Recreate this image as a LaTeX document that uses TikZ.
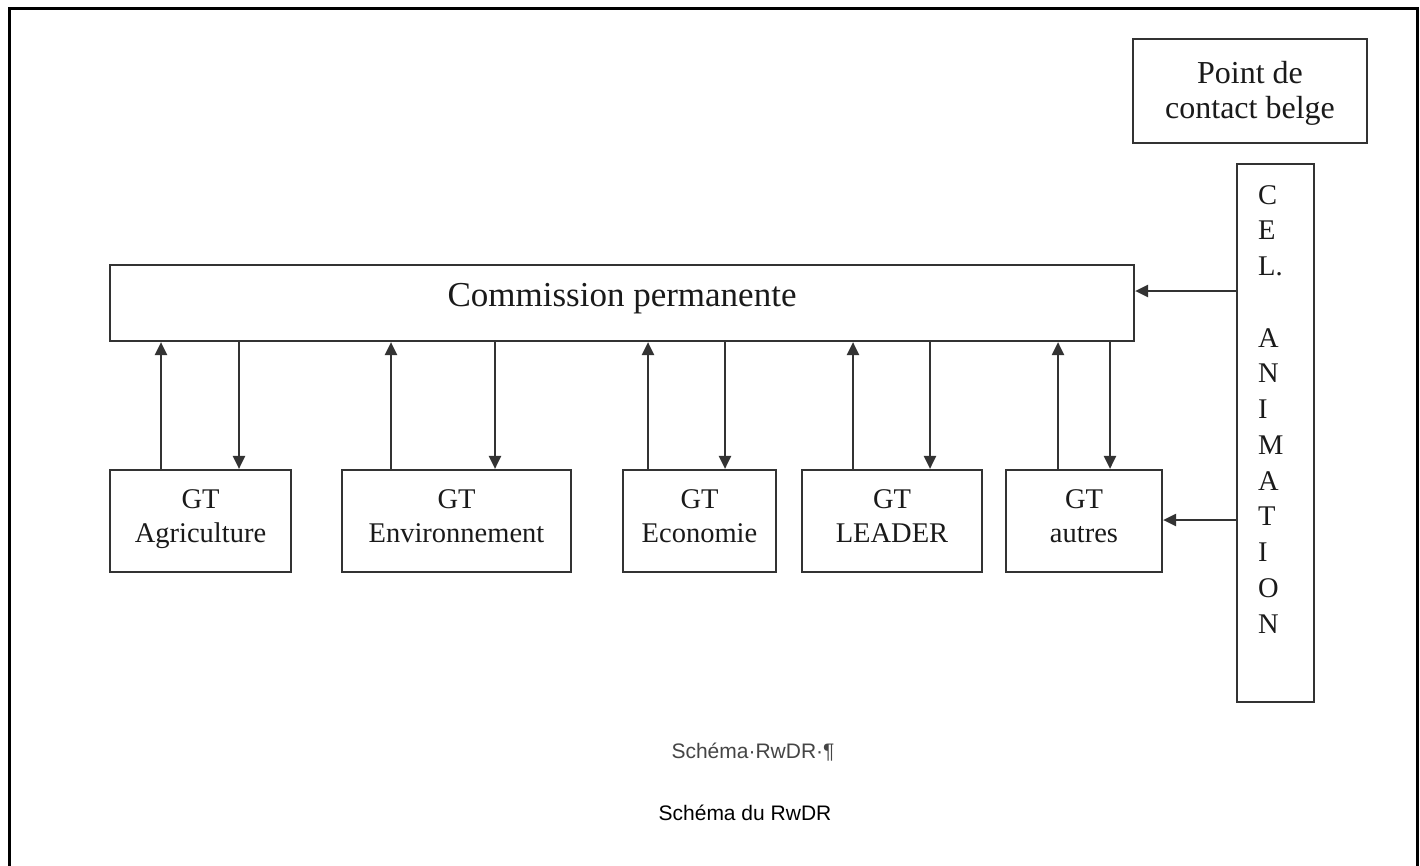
\documentclass[tikz,border=0pt]{standalone}
\usepackage{fontspec}
\setmainfont{Liberation Serif}
\newfontfamily\capfont{Liberation Sans}
\usetikzlibrary{arrows.meta,calc}
\definecolor{lc}{HTML}{333333}
\definecolor{tc}{HTML}{1A1A1A}
\definecolor{capgray}{HTML}{454545}
\newcommand\gtarrows[3]{%
  \draw[arr] let \p1=([xshift=#2pt]#1.north), \p2=(com.south) in (\p1) -- (\x1,\y2);
  \draw[arr] let \p1=([xshift=#3pt]#1.north), \p2=(com.south) in (\x1,\y2) -- (\p1);
}
\begin{document}
\begin{tikzpicture}[x=1pt,y=-1pt,
  bx/.style={draw=lc, line width=2.2pt, inner sep=0pt},
  arr/.style={draw=lc, line width=2.2pt, -{Triangle[length=13pt,width=12pt]}},
  gtlab/.style={align=center, font=\fontsize{28.5}{34}\selectfont, text=tc, inner sep=0pt},
  caplab/.style={inner sep=0pt, font=\capfont\fontsize{21}{24}\selectfont},
]
\useasboundingbox[fill=white] (0,0) rectangle (1420,865);
% outer frame (bottom open)
\draw[line width=3pt, black] (9.5,866) -- (9.5,8) -- (1417,8) -- (1417,866);

% top right box
\node[bx, minimum width=234pt, minimum height=104pt] (pcb) at (1250,91) {};
\node[inner sep=0pt, align=center, font=\fontsize{32}{35}\selectfont, text=tc] (pcbt)
  at ([yshift=-2pt]pcb.center) {Point de\\contact belge};

% CEL. ANIMATION column
\node[bx, minimum width=77pt, minimum height=538pt] (cel) at (1275.5,433) {};
\node[anchor=north west, inner sep=0pt, align=left, text=tc,
      font=\fontsize{28.5}{35.75}\selectfont] (celt) at (1258,185)
  {C\\E\\L.\\[35.75pt]A\\N\\I\\M\\A\\T\\I\\O\\N};

% Commission permanente
\node[bx, minimum width=1024pt, minimum height=76pt] (com) at (622,303) {};
\node[inner sep=0pt, font=\fontsize{35}{40}\selectfont, text=tc] (comt)
  at ([yshift=4pt]com.center) {Commission permanente};

% GT boxes
\node[bx, minimum width=181pt, minimum height=102pt] (agr) at (200.5,521) {};
\node[bx, minimum width=229pt, minimum height=102pt] (env) at (456.5,521) {};
\node[bx, minimum width=153pt, minimum height=102pt] (eco) at (699.5,521) {};
\node[bx, minimum width=180pt, minimum height=102pt] (lea) at (892,521) {};
\node[bx, minimum width=156pt, minimum height=102pt] (aut) at (1084,521) {};

\node[gtlab] (agrt) at ([yshift=2pt]agr.center) {GT\\Agriculture};
\node[gtlab] (envt) at ([yshift=5pt]env.center) {GT\\Environnement};
\node[gtlab] (ecot) at ([yshift=5pt]eco.center) {GT\\Economie};
\node[gtlab] (leat) at ([yshift=5pt]lea.center) {GT\\LEADER};
\node[gtlab] (autt) at ([yshift=5pt]aut.center) {GT\\autres};

% vertical arrows
\gtarrows{agr}{-39.5}{38.5}
\gtarrows{env}{-65.5}{38.5}
\gtarrows{eco}{-51.5}{25.5}
\gtarrows{lea}{-39}{38}
\gtarrows{aut}{-26}{26}

% arrows from CEL. ANIMATION
\draw[arr] let \p1=([yshift=12pt]com.east), \p2=(cel.west) in (\x2,\y1) -- (\p1);
\draw[arr] let \p1=([yshift=1pt]aut.east), \p2=(cel.west) in (\x2,\y1) -- (\p1);

% captions
\node[caplab, text=capgray] (cap1) at (753,752) {Schéma·RwDR·¶};
\node[caplab, text=black] (cap2) at (745,813) {Schéma du RwDR};
\end{tikzpicture}
\end{document}
